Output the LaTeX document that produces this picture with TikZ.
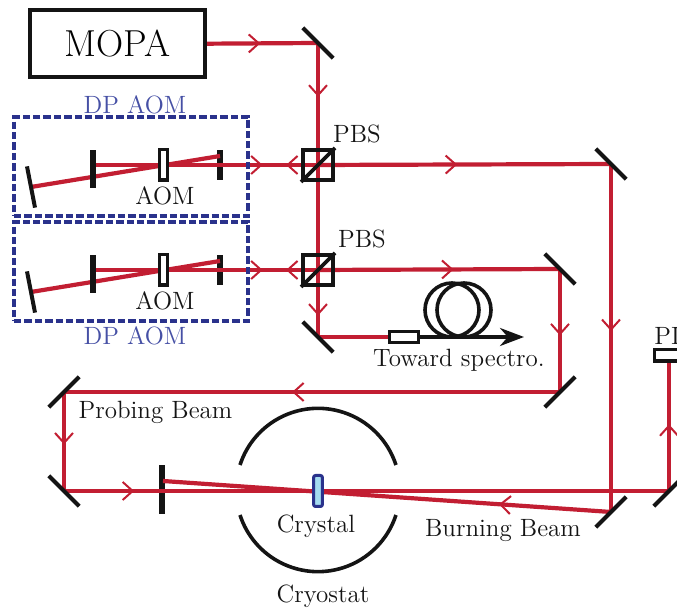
\documentclass[tikz,border=0pt]{standalone}
\usepackage{xcolor}
\usepackage{tikz}
\usetikzlibrary{arrows.meta, positioning, decorations.markings, backgrounds}
\definecolor{myred}{RGB}{194,30,50}
\definecolor{mydark}{RGB}{20,20,20}
\definecolor{myblue}{RGB}{42,50,140}
\definecolor{mylabel}{RGB}{70,80,165}
\definecolor{mycrystal}{RGB}{165,220,240}
\tikzset{
  beam/.style={line width=2.1pt, color=myred},
  fibre/.style={line width=1.8pt, color=mydark},
  chevron/.style={postaction={decorate}, decoration={markings,
    mark=at position #1 with {\arrow[myred, line width=1pt]{Straight Barb[length=5pt, width=9pt]}}}},
  mirror/.style={rectangle, fill=mydark, inner sep=0pt, minimum width=21.5pt, minimum height=2pt},
  tiltmirror/.style={rectangle, fill=mydark, inner sep=0pt, minimum width=21pt, minimum height=2pt},
  stopbar/.style={rectangle, fill=mydark, inner sep=0pt, minimum width=2.8pt},
  pbsbox/.style={rectangle, draw=mydark, line width=2pt, inner sep=0pt, minimum size=15pt},
  aombox/.style={rectangle, draw=mydark, fill=white, line width=1.7pt, inner sep=0pt, minimum width=3.8pt, minimum height=15.2pt},
  coupler/.style={rectangle, draw=mydark, fill=white, line width=1.6pt, inner sep=0pt, minimum width=14.4pt, minimum height=5.6pt},
  dpbox/.style={rectangle, draw=myblue, line width=1.9pt, dash pattern=on 3.7pt off 1.5pt,
    inner sep=0pt, minimum width=117pt, minimum height=49.6pt},
  lab/.style={inner sep=0pt, color=mydark, font=\fontsize{12.5}{15}\selectfont},
  dplab/.style={lab, color=mylabel}
}
\begin{document}
\begin{tikzpicture}[x=0.5pt, y=-0.5pt]
  \useasboundingbox (0,0) rectangle (677,608);

  % Laser
  \node[rectangle, draw=mydark, line width=2pt, minimum width=87.5pt, minimum height=33.3pt, inner sep=0pt,
    font=\fontsize{18.8}{22}\selectfont] (mopa) at (117.5,43.7) {MOPA};

  % Mirrors
  \node[mirror, rotate=-45] (mtop) at (318,43) {};
  \node[mirror, rotate=-45] (mburnup) at (611,164) {};
  \node[mirror, rotate=45] (mburn) at (611,512) {};
  \node[mirror, rotate=-45] (mprobeup) at (560,269) {};
  \node[mirror, rotate=45] (mprobe) at (560,392) {};
  \node[mirror, rotate=45] (mleftup) at (64,392) {};
  \node[mirror, rotate=-45] (mleft) at (64,491) {};
  \node[mirror, rotate=-45] (mspec) at (318,337) {};
  \node[mirror, rotate=45] (mpi) at (669,491) {};

  % Beam splitters
  \node[pbsbox] (pbsa) at (318,165) {};
  \node[pbsbox] (pbsb) at (318,270) {};
  \draw[line width=1.8pt, color=mydark] (pbsa.south west) -- (pbsa.north east);
  \draw[line width=1.8pt, color=mydark] (pbsb.south west) -- (pbsb.north east);
  \node[lab] (pbsalab) at (357,134) {PBS};
  \node[lab] (pbsblab) at (362,239) {PBS};

  % Double pass AOM
  \node[dpbox] (dpa) at (131,166.5) {};
  \node[dpbox] (dpb) at (131,271.5) {};
  \node[dplab] (dpalab) at (135,105) {DP AOM};
  \node[dplab] (dpblab) at (135,336) {DP AOM};
  \node[stopbar, minimum height=19pt] (bara) at (93,169) {};
  \node[stopbar, minimum height=19pt] (barb) at (93,274) {};
  \node[aombox] (aoma) at (163.5,165) {};
  \node[aombox] (aomb) at (163.5,270) {};
  \node[lab] (aomalab) at (165,196) {AOM};
  \node[lab] (aomblab) at (165,301) {AOM};
  \node[tiltmirror, rotate=-79] (dma) at (31,187) {};
  \node[tiltmirror, rotate=-79] (dmb) at (31,292) {};

  % Fibre to spectrometer
  \node[coupler] (fib) at (404,337) {};
  \coordinate (fibend) at (524,337);
  \draw[fibre] (452,310) circle (27);
  \draw[fibre] (464,310) circle (27);
  \draw[fibre, -{Stealth[length=12pt, width=9pt]}] (fib) -- (fibend);
  \node[lab] (speclab) at (459,360) {Toward spectro.};

  % Detector
  \node[coupler] (pi) at (669,355.5) {};
  \node[lab, anchor=base west] (pilab) at (654,345) {PI};

  % Cryostat
  \draw[line width=1.8pt, color=mydark] (240,465) arc (198:342:82);
  \draw[line width=1.8pt, color=mydark] (240,515) arc (162:18:82);
  \node[rectangle, rounded corners=1pt, draw=myblue, fill=mycrystal, line width=1.5pt, inner sep=0pt,
    minimum width=4.4pt, minimum height=15.5pt] (crystal) at (318,491) {};
  \node[lab] (crystallab) at (316,526) {Crystal};
  \node[lab] (cryolab) at (323,596) {Cryostat};
  \node[lab] (probelab) at (155.5,412) {Probing Beam};
  \node[lab] (burnlab) at (503,531) {Burning Beam};

  \begin{scope}[on background layer]
    % Beam stops lie under the beams
    \node[stopbar, minimum height=15pt] (stopa) at (220,165) {};
    \node[stopbar, minimum height=15pt] (stopb) at (220,270) {};
    \node[stopbar, minimum height=24.5pt] (stopc) at (162,490) {};
    \coordinate (hita) at (220,156);
    \coordinate (hitb) at (220,261);
    \coordinate (hitc) at (163,481);

    % Main path
    \draw[beam, chevron=0.48] (mopa.east) -- (mtop.center);
    \draw[beam, chevron=0.44] (mtop.center) -- (pbsa.center);
    \draw[beam] (pbsa.center) -- (pbsb.center);
    \draw[beam, chevron=0.68] (pbsb.center) -- (mspec.center);
    \draw[beam] (mspec.center) -- (fib.west);

    % Double pass arms
    \draw[beam, chevron=0.754] (bara.center |- pbsa.center) -- (pbsa.center);
    \draw[beam, chevron=0.754] (barb.center |- pbsb.center) -- (pbsb.center);
    \draw[beam, chevron=0.142] (pbsa.center) -- (bara.center |- pbsa.center);
    \draw[beam, chevron=0.142] (pbsb.center) -- (barb.center |- pbsb.center);
    \draw[beam] (dma.center) -- (hita);
    \draw[beam] (dmb.center) -- (hitb);

    % Burning beam
    \draw[beam, chevron=0.475] (pbsa.center) -- (mburnup.center);
    \draw[beam, chevron=0.48] (mburnup.center) -- (mburn.center);
    \draw[beam, chevron=0.25] (mburn.center) -- (hitc);

    % Probing beam
    \draw[beam, chevron=0.56] (pbsb.center) -- (mprobeup.center);
    \draw[beam, chevron=0.54] (mprobeup.center) -- (mprobe.center);
    \draw[beam, chevron=0.54] (mprobe.center) -- (mleftup.center);
    \draw[beam, chevron=0.53] (mleftup.center) -- (mleft.center);
    \draw[beam, chevron=0.116] (mleft.center) -- (mpi.center);
    \draw[beam, chevron=0.52] (mpi.center) -- (pi.south);
  \end{scope}
\end{tikzpicture}
\end{document}
